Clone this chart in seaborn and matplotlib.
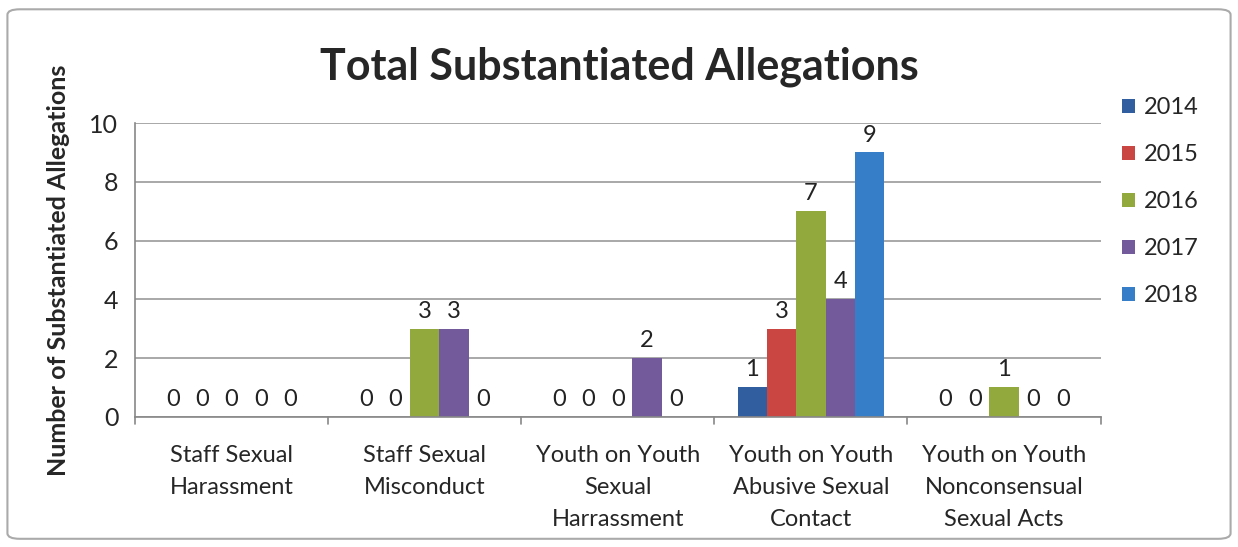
import matplotlib
matplotlib.use("Agg")
import matplotlib.pyplot as plt
import seaborn as sns
import pandas as pd
from matplotlib.patches import FancyBboxPatch

categories = ["Staff Sexual\nHarassment", "Staff Sexual\nMisconduct", "Youth on Youth\nSexual\nHarrassment",
              "Youth on Youth\nAbusive Sexual\nContact", "Youth on Youth\nNonconsensual\nSexual Acts"]
years = ["2014", "2015", "2016", "2017", "2018"]
v2014 = [0, 0, 0, 1, 0]
v2015 = [0, 0, 0, 3, 0]
v2016 = [0, 3, 0, 7, 1]
v2017 = [0, 3, 2, 4, 0]
v2018 = [0, 0, 0, 9, 0]
colors = ["#1f5bb0", "#e0302c", "#9cbb2c", "#6f4fa6", "#1f7ee0"]

series = [v2014, v2015, v2016, v2017, v2018]
rows = []
for y, vals in zip(years, series):
    for c, v in zip(categories, vals):
        rows.append({"Category": c, "Year": y, "Value": v})
df = pd.DataFrame(rows)

sns.set_theme(style="white")
plt.rcParams['font.family'] = ['Lato', 'DejaVu Sans']

fig = plt.figure(figsize=(12.38, 5.47), dpi=100)
ax = fig.add_axes([0.109, 0.238, 0.78, 0.537])

sns.barplot(data=df, x="Category", y="Value", hue="Year", palette=colors,
            width=0.76, ax=ax, edgecolor="none", legend=True)

ax.set_ylim(0, 10)
ax.set_xlim(-0.5, 4.5)
ax.set_yticks([0, 2, 4, 6, 8, 10])
ax.tick_params(axis='y', labelsize=18, length=6, color="#888888", direction="out", pad=6)
ax.tick_params(axis='x', labelsize=17, length=0, pad=20)
for lab in ax.get_xticklabels():
    lab.set_linespacing(1.65)
ax.yaxis.grid(True, color="#999999", linewidth=1.2)
ax.set_axisbelow(True)
for s in ["top", "right"]:
    ax.spines[s].set_visible(False)
for s in ["left", "bottom"]:
    ax.spines[s].set_color("#888888")
    ax.spines[s].set_linewidth(1.2)
for b in [-0.5, 0.5, 1.5, 2.5, 3.5, 4.5]:
    ax.plot([b, b], [0, -0.25], color="#888888", lw=1.2, clip_on=False)

ax.set_xlabel("")
ax.set_ylabel("Number of Substantiated Allegations", fontsize=18, fontweight="bold", labelpad=14)

for cont in ax.containers:
    ax.bar_label(cont, fmt="%d", fontsize=17, padding=5, color="#222222")

leg = ax.legend(loc="upper left", bbox_to_anchor=(1.0, 1.16), frameon=False,
                fontsize=17, labelspacing=1.1, handlelength=0.55, handleheight=0.55,
                handletextpad=0.4)

fig.suptitle("Total Substantiated Allegations", x=0.5, y=0.915, fontsize=31, fontweight="bold")

fig.patches.append(FancyBboxPatch((0.006, 0.015), 0.988, 0.968, boxstyle="round,pad=0,rounding_size=0.01",
                                  transform=fig.transFigure, fill=False, edgecolor="#aaaaaa", lw=1.5))

fig.savefig("out.png", dpi=100)
